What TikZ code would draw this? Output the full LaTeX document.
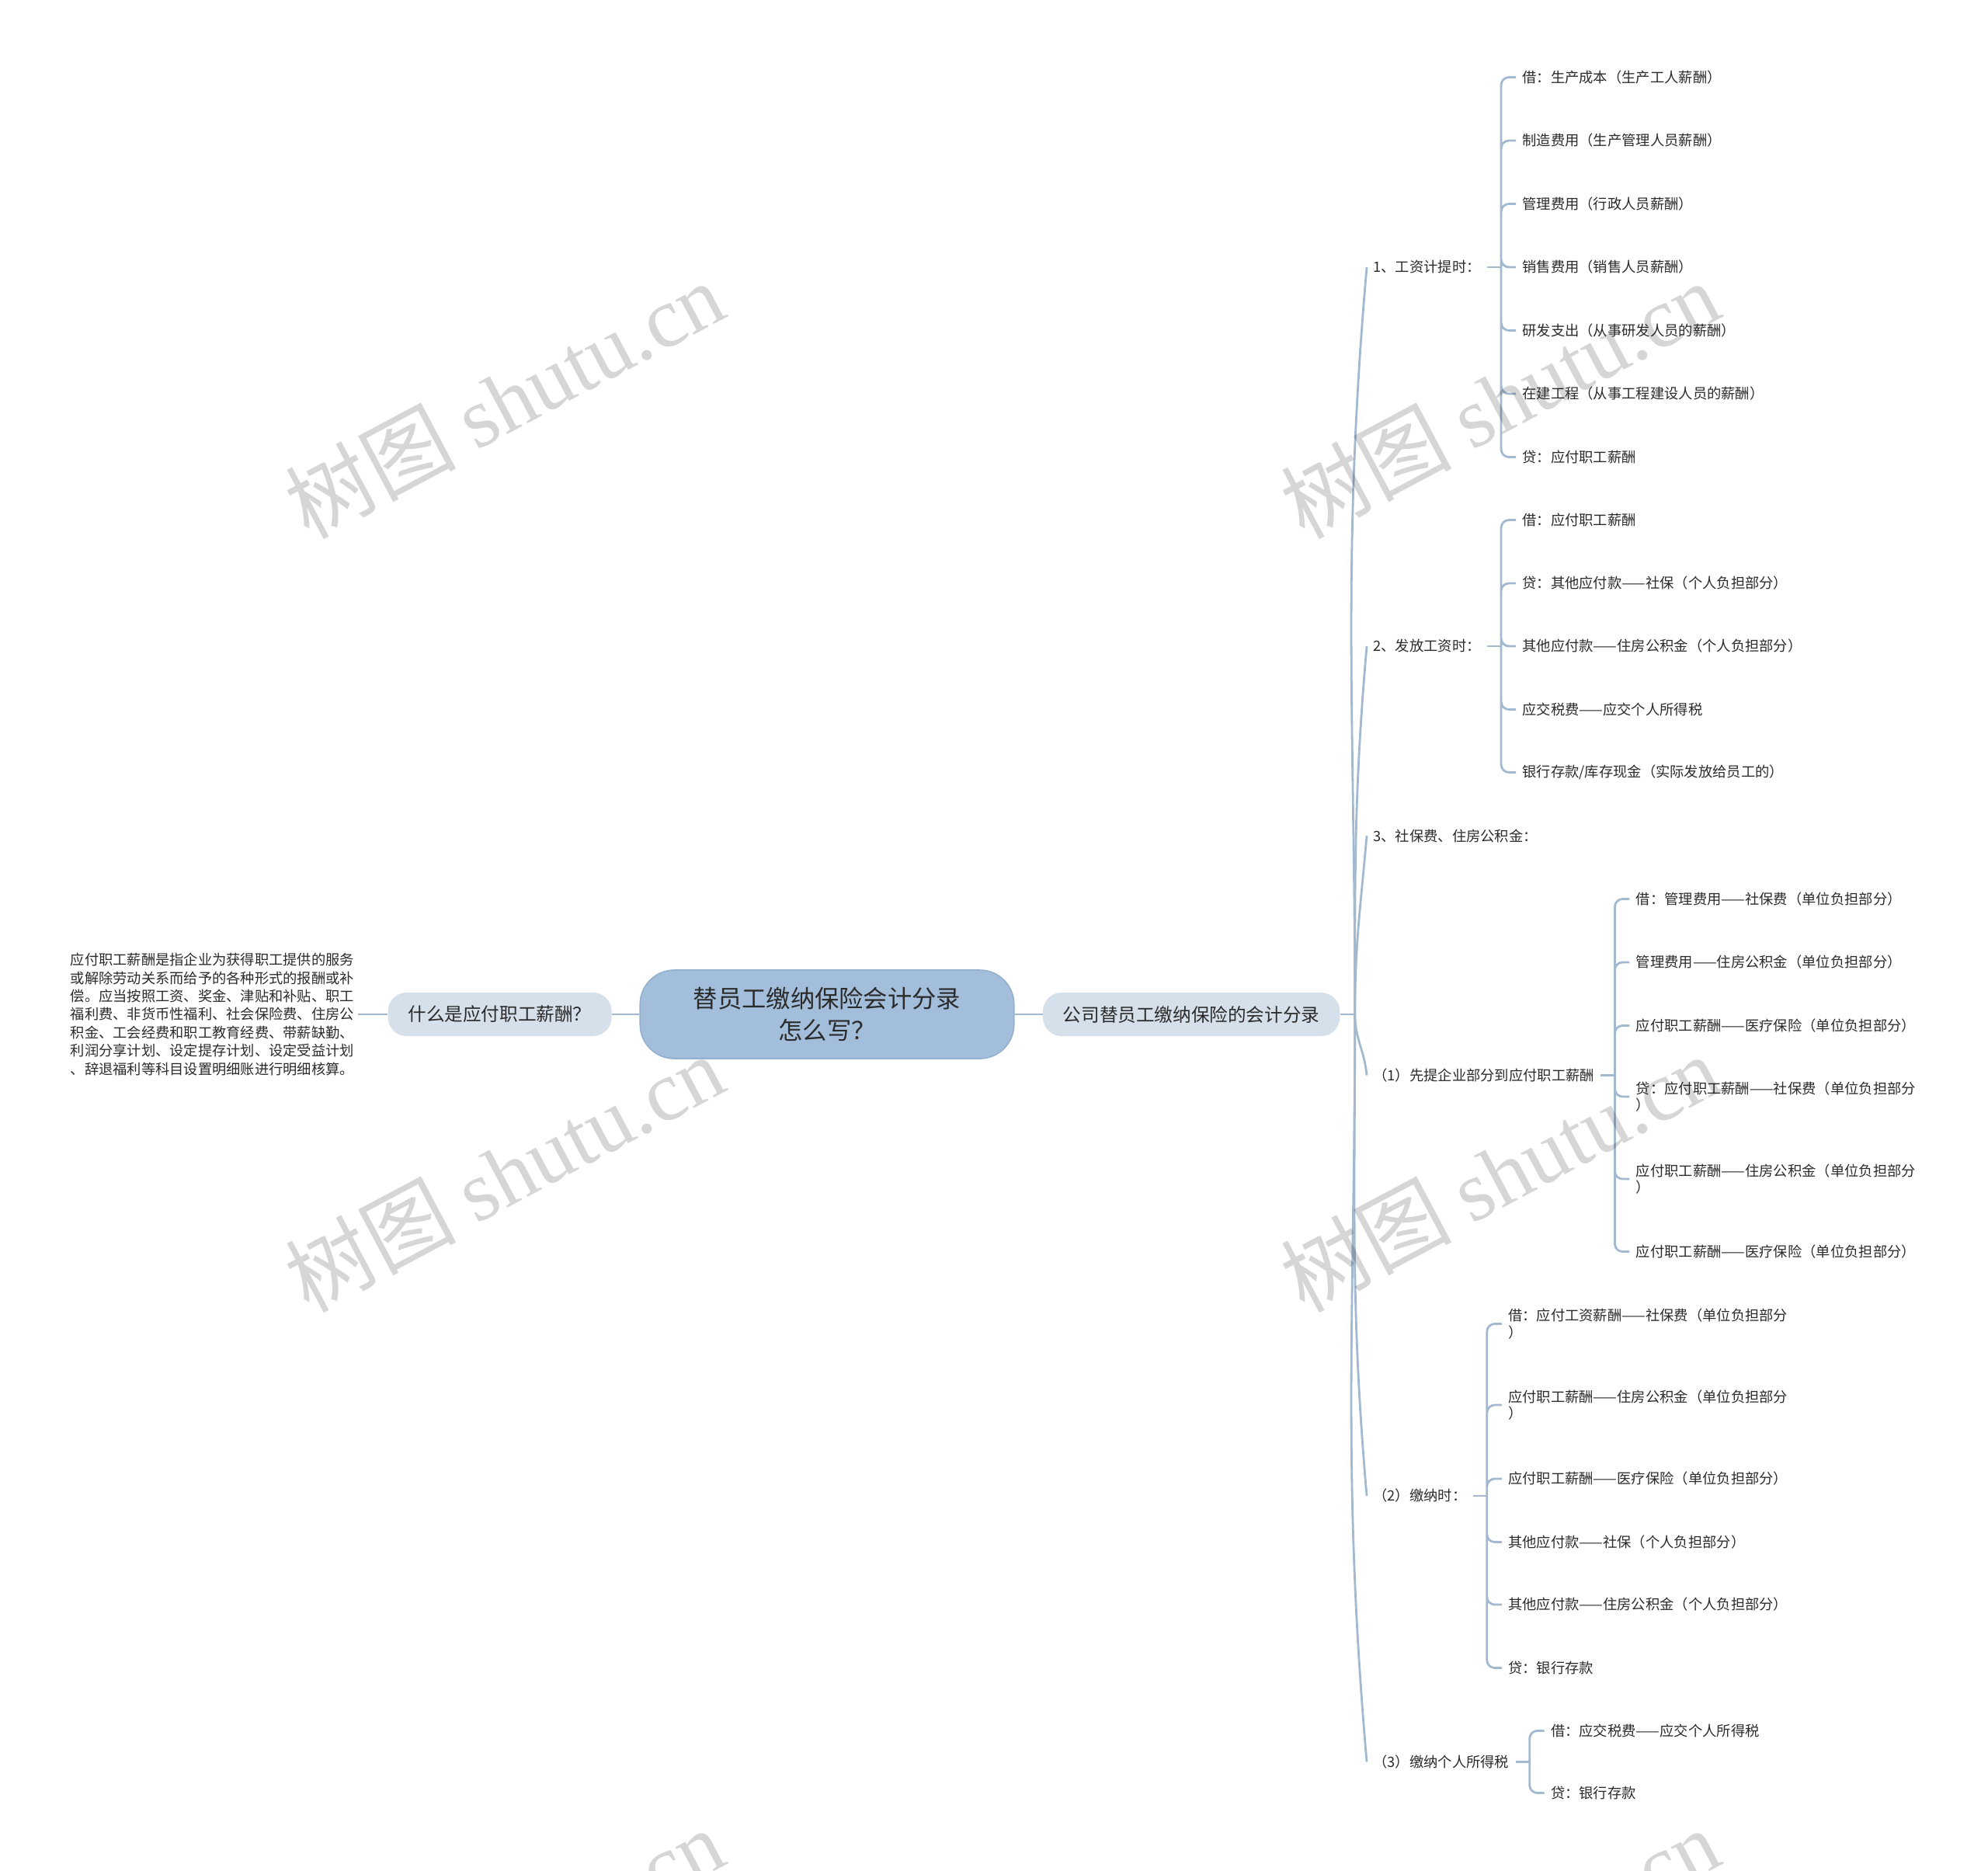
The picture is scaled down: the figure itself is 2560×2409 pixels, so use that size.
\documentclass[tikz,border=0pt]{standalone}
\usepackage{fontspec}
\setmainfont{Noto Sans CJK SC}
\newfontfamily\wmserif{Liberation Serif}
\usepackage{tikz}
\usetikzlibrary{positioning,calc}

\definecolor{linkblue}{HTML}{A2B9D0}
\definecolor{rootblue}{HTML}{A3BEDA}
\definecolor{rootedge}{HTML}{93B1CF}
\definecolor{topicblue}{HTML}{D5E0EA}
\definecolor{ink}{HTML}{2B2B2B}

\begin{document}
\begin{tikzpicture}[x=0.5pt, y=0.5pt,
    link/.style={draw=linkblue, line width=1.4pt},
    fork/.style={link, rounded corners=5pt},
    rootbox/.style={fill=rootblue, draw=rootedge, line width=0.8pt, rounded corners=22pt, minimum width=240.75pt, minimum height=57pt, align=center, font=\fontsize{15.65}{20.5}\selectfont, text=ink},
    topic/.style={fill=topicblue, rounded corners=12pt, minimum height=28pt, inner xsep=13pt, font=\fontsize{11.8}{14}\selectfont, text=ink},
    defbox/.style={inner xsep=2.5pt, align=left, font=\fontsize{9.125}{11.7}\selectfont, text=ink},
    stage/.style={anchor=west, inner xsep=4pt, inner ysep=2pt, align=left, font=\fontsize{9.15}{10.75}\selectfont, text=ink},
    entry/.style={stage, xshift=9.5pt},
    wmark/.style={rotate=28, text=black, text opacity=0.16, font=\fontsize{55}{60}\selectfont}
]
    \path[fill=white, use as bounding box] (0,0) rectangle (2560,-2409);

    % central topic and its two branches
    \node[rootbox] (root) at (1065,-1306) {替员工缴纳保险会计分录\\怎么写？};
    \node[topic, left=17.75pt of root] (ask) {什么是应付职工薪酬？};
    \node[topic, right=18pt of root] (entries) {公司替员工缴纳保险的会计分录};
    \node[defbox, left=19pt of ask] (defn) {应付职工薪酬是指企业为获得职工提供的服务\\或解除劳动关系而给予的各种形式的报酬或补\\偿。应当按照工资、奖金、津贴和补贴、职工\\福利费、非货币性福利、社会保险费、住房公\\积金、工会经费和职工教育经费、带薪缺勤、\\利润分享计划、设定提存计划、设定受益计划\\、辞退福利等科目设置明细账进行明细核算。};

    \draw[link] (root) -- (ask);
    \draw[link] (ask) -- (defn);
    \draw[link] (root) -- (entries);

    % stages
    \coordinate[right=9.5pt of entries] (trunk);
    \draw[link] (entries) -- (trunk);
    \node[stage] (s1) at (1760,-344) {1、工资计提时：};
    \node[stage] (s2) at (1760,-832) {2、发放工资时：};
    \node[stage] (s3) at (1760,-1076) {3、社保费、住房公积金：};
    \node[stage] (s4) at (1760,-1384.5) {（1）先提企业部分到应付职工薪酬};
    \node[stage] (s5) at (1760,-1926) {（2）缴纳时：};
    \node[stage] (s6) at (1760,-2268.5) {（3）缴纳个人所得税};

    \draw[link] (trunk) to[out=90, in=-95] (s1.west);
    \draw[link] (trunk) to[out=90, in=-95] (s2.west);
    \draw[link] (trunk) to[out=90, in=-95] (s3.west);
    \draw[link] (trunk) to[out=-90, in=95] (s4.west);
    \draw[link] (trunk) to[out=-90, in=95] (s5.west);
    \draw[link] (trunk) to[out=-90, in=95] (s6.west);

    % 1、工资计提时
    \coordinate[right=9pt of s1] (b1);
    \node[entry] (a1) at (b1 |- 0,-99.5) {借：生产成本（生产工人薪酬）};
    \node[entry] (a2) at (b1 |- 0,-181) {制造费用（生产管理人员薪酬）};
    \node[entry] (a3) at (b1 |- 0,-262.5) {管理费用（行政人员薪酬）};
    \node[entry] (a4) at (b1 |- 0,-344) {销售费用（销售人员薪酬）};
    \node[entry] (a5) at (b1 |- 0,-425.5) {研发支出（从事研发人员的薪酬）};
    \node[entry] (a6) at (b1 |- 0,-507) {在建工程（从事工程建设人员的薪酬）};
    \node[entry] (a7) at (b1 |- 0,-588.5) {贷：应付职工薪酬};
    \draw[link] (s1) -- (b1);
    \draw[fork] (b1) |- (a1.west) (b1) |- (a2.west) (b1) |- (a3.west) (b1) |- (a4.west)
                (b1) |- (a5.west) (b1) |- (a6.west) (b1) |- (a7.west);

    % 2、发放工资时
    \coordinate[right=9pt of s2] (b2);
    \node[entry] (c1) at (b2 |- 0,-669.5) {借：应付职工薪酬};
    \node[entry] (c2) at (b2 |- 0,-751) {贷：其他应付款——社保（个人负担部分）};
    \node[entry] (c3) at (b2 |- 0,-832) {其他应付款——住房公积金（个人负担部分）};
    \node[entry] (c4) at (b2 |- 0,-913.5) {应交税费——应交个人所得税};
    \node[entry] (c5) at (b2 |- 0,-994.5) {银行存款/库存现金（实际发放给员工的）};
    \draw[link] (s2) -- (b2);
    \draw[fork] (b2) |- (c1.west) (b2) |- (c2.west) (b2) |- (c3.west) (b2) |- (c4.west)
                (b2) |- (c5.west);

    % （1）先提企业部分
    \coordinate[right=9pt of s4] (b4);
    \node[entry] (d1) at (b4 |- 0,-1157.5) {借：管理费用——社保费（单位负担部分）};
    \node[entry] (d2) at (b4 |- 0,-1239) {管理费用——住房公积金（单位负担部分）};
    \node[entry] (d3) at (b4 |- 0,-1320.5) {应付职工薪酬——医疗保险（单位负担部分）};
    \node[entry] (d4) at (b4 |- 0,-1412) {贷：应付职工薪酬——社保费（单位负担部分\\）};
    \node[entry] (d5) at (b4 |- 0,-1518) {应付职工薪酬——住房公积金（单位负担部分\\）};
    \node[entry] (d6) at (b4 |- 0,-1611.5) {应付职工薪酬——医疗保险（单位负担部分）};
    \draw[link] (s4) -- (b4);
    \draw[fork] (b4) |- (d1.west) (b4) |- (d2.west) (b4) |- (d3.west) (b4) |- (d4.west)
                (b4) |- (d5.west) (b4) |- (d6.west);

    % （2）缴纳时
    \coordinate[right=9pt of s5] (b5);
    \node[entry] (e1) at (b5 |- 0,-1704.5) {借：应付工资薪酬——社保费（单位负担部分\\）};
    \node[entry] (e2) at (b5 |- 0,-1809) {应付职工薪酬——住房公积金（单位负担部分\\）};
    \node[entry] (e3) at (b5 |- 0,-1904) {应付职工薪酬——医疗保险（单位负担部分）};
    \node[entry] (e4) at (b5 |- 0,-1985.5) {其他应付款——社保（个人负担部分）};
    \node[entry] (e5) at (b5 |- 0,-2066) {其他应付款——住房公积金（个人负担部分）};
    \node[entry] (e6) at (b5 |- 0,-2147.5) {贷：银行存款};
    \draw[link] (s5) -- (b5);
    \draw[fork] (b5) |- (e1.west) (b5) |- (e2.west) (b5) |- (e3.west) (b5) |- (e4.west)
                (b5) |- (e5.west) (b5) |- (e6.west);

    % （3）缴纳个人所得税
    \coordinate[right=9pt of s6] (b6);
    \node[entry] (f1) at (b6 |- 0,-2228.5) {借：应交税费——应交个人所得税};
    \node[entry] (f2) at (b6 |- 0,-2308.5) {贷：银行存款};
    \draw[link] (s6) -- (b6);
    \draw[fork] (b6) |- (f1.west) (b6) |- (f2.west);

    % watermark
    \begin{scope}
        \clip (0,0) rectangle (2560,-2409);
        \node[wmark] (wm1) at (649,-514) {树图 {\wmserif shutu.cn}};
        \node[wmark] (wm2) at (1931,-514) {树图 {\wmserif shutu.cn}};
        \node[wmark] (wm3) at (649,-1510) {树图 {\wmserif shutu.cn}};
        \node[wmark] (wm4) at (1931,-1510) {树图 {\wmserif shutu.cn}};
        \node[wmark] (wm5) at (649,-2506) {树图 {\wmserif shutu.cn}};
        \node[wmark] (wm6) at (1931,-2506) {树图 {\wmserif shutu.cn}};
    \end{scope}
\end{tikzpicture}
\end{document}
